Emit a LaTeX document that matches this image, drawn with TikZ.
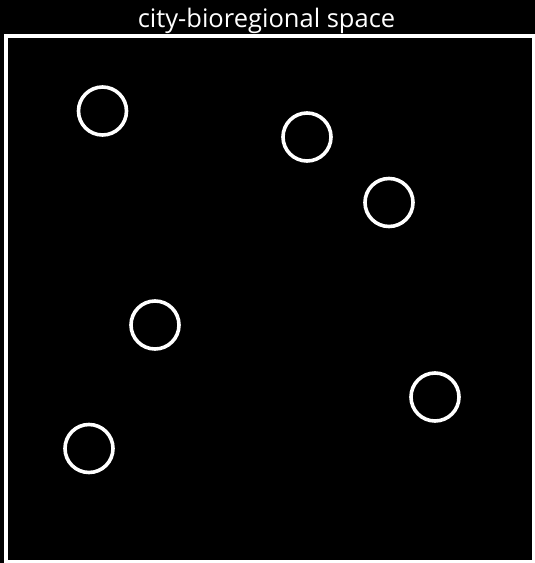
\documentclass[tikz,border=0pt]{standalone}
\usepackage{fontspec}
\setmainfont{Open Sans}
\begin{document}
\begin{tikzpicture}[x=1pt,y=-1pt,
  site/.style={circle,draw=white,line width=3.6pt,minimum size=48pt,inner sep=0pt},
  frame/.style={draw=white,line width=4pt},
  title/.style={text=white,font=\fontsize{25.5}{28}\selectfont,anchor=base,inner sep=0pt}]
\fill[black] (0,0) rectangle (535,563);
\useasboundingbox (0,0) rectangle (535,563);
\draw[frame] (6,36) rectangle (534,562);
\node[title] (t) at (266.5,27) {city-bioregional space};
\node[site] (c1) at (102.5,111) {};
\node[site] (c2) at (307,137) {};
\node[site] (c3) at (389,202.5) {};
\node[site] (c4) at (155,325) {};
\node[site] (c5) at (435,397) {};
\node[site] (c6) at (89,448.5) {};
\end{tikzpicture}
\end{document}
